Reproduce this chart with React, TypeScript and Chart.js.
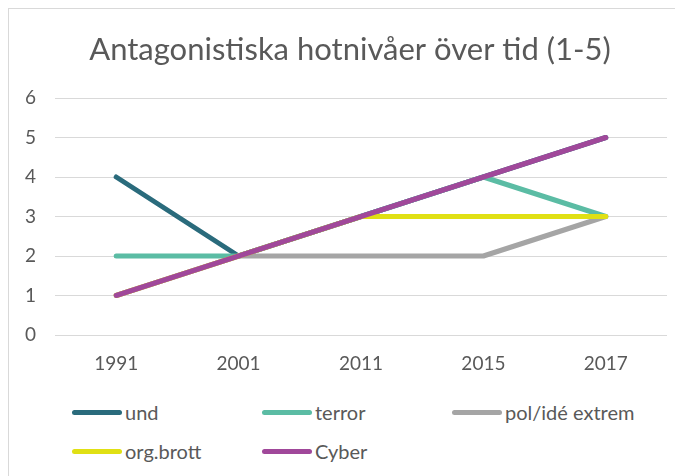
import React, { useEffect, useRef } from "react";
import { Chart, registerables } from "chart.js";

Chart.register(...registerables);

const titleText = "Antagonistiska hotnivåer över tid (1-5)";
const categories = ["1991", "2001", "2011", "2015", "2017"];
const seriesNames = ["und", "terror", "pol/idé extrem", "org.brott", "Cyber"];
const undValues = [4, 2, 3, 4, 5];
const terrorValues = [2, 2, 3, 4, 3];
const polValues = [1, 2, 2, 2, 3];
const orgValues = [1, 2, 3, 3, 3];
const cyberValues = [1, 2, 3, 4, 5];
const seriesColors = ["#2a6b7c", "#5bbca4", "#a5a5a5", "#e0e014", "#a0489a"];
const yTicks = [0, 1, 2, 3, 4, 5, 6];

const FONT = "Lato, 'Open Sans', sans-serif";
const TEXT = "#595959";

const titlePlugin = {
  id: "centeredTitle",
  afterDraw(chart: any) {
    const ctx = chart.ctx;
    ctx.save();
    ctx.fillStyle = TEXT;
    ctx.font = `31px ${FONT}`;
    ctx.textAlign = "center";
    ctx.textBaseline = "middle";
    ctx.fillText(titleText, 341, 41);
    ctx.restore();
  },
};

export default function App() {
  const ref = useRef<HTMLCanvasElement | null>(null);
  useEffect(() => {
    if (!ref.current) return;
    const values = [undValues, terrorValues, polValues, orgValues, cyberValues];
    const chart = new Chart(ref.current, {
      type: "line",
      data: {
        labels: categories,
        datasets: seriesNames.map((n, i) => ({
          label: n,
          data: values[i],
          borderColor: seriesColors[i],
          backgroundColor: seriesColors[i],
          borderWidth: 5,
          pointRadius: 0,
          borderCapStyle: "round" as const,
          borderJoinStyle: "round" as const,
          tension: 0,
          order: seriesNames.length - i,
        })),
      },
      options: {
        animation: false,
        responsive: false,
        layout: { padding: { left: 0, right: 16, top: 89, bottom: 0 } },
        plugins: {
          legend: { display: false },
          tooltip: { enabled: false },
          title: { display: false },
        },
        scales: {
          x: {
            offset: true,
            grid: { display: false, drawTicks: false },
            border: { display: false },
            ticks: { color: TEXT, font: { family: FONT, size: 19 }, padding: 17, maxRotation: 0 },
            afterFit: (s: any) => { s.height = 44; },
          },
          y: {
            min: 0,
            max: 6,
            afterBuildTicks: (s: any) => { s.ticks = yTicks.map((v) => ({ value: v })); },
            grid: { color: "#d9d9d9", lineWidth: 1, drawTicks: false },
            border: { display: false },
            ticks: { color: TEXT, font: { family: FONT, size: 19 }, padding: 19 },
            afterFit: (s: any) => { s.width = 46; },
          },
        },
      },
      plugins: [titlePlugin],
    });
    return () => chart.destroy();
  }, []);

  const legendPos = [
    { x: 63, y: 403 },
    { x: 253, y: 403 },
    { x: 443, y: 403 },
    { x: 63, y: 442 },
    { x: 253, y: 442 },
  ];

  return (
    <div
      style={{
        position: "relative",
        width: 700,
        height: 480,
        border: "1px solid #d9d9d9",
        boxSizing: "border-box",
        background: "#fff",
        overflow: "hidden",
      }}
    >
      <canvas ref={ref} width={674} height={370} style={{ position: "absolute", left: 0, top: 0 }} />
      {seriesNames.map((n, i) => (
        <div key={n}>
          <div
            style={{
              position: "absolute",
              left: legendPos[i].x,
              top: legendPos[i].y - 2.5,
              width: 50,
              height: 5,
              borderRadius: 2.5,
              background: seriesColors[i],
            }}
          />
          <div
            style={{
              position: "absolute",
              left: legendPos[i].x + 53,
              top: legendPos[i].y - 13,
              height: 26,
              lineHeight: "26px",
              fontFamily: FONT,
              fontSize: 20,
              color: TEXT,
              whiteSpace: "nowrap",
            }}
          >
            {n}
          </div>
        </div>
      ))}
    </div>
  );
}
